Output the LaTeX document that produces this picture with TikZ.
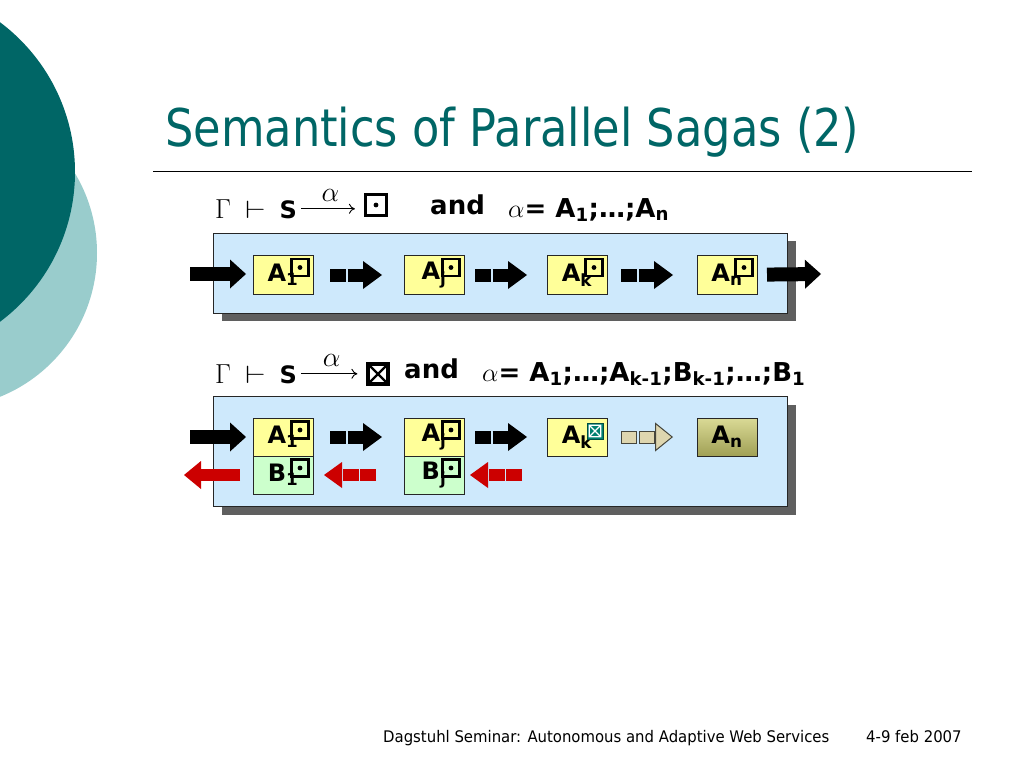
\RequirePackage{fix-cm}
\documentclass[tikz,border=0pt]{standalone}
\usepackage{amsmath,amssymb}
\usepackage{fontspec}
\setmainfont{DejaVu Sans}[FakeStretch=0.86]
\newfontfamily\boldsans{DejaVu Sans}
\newfontfamily\footsans{DejaVu Sans}[FakeStretch=0.93]
\usetikzlibrary{arrows.meta, positioning, calc}
\definecolor{sagateal}{RGB}{0,102,102}
\definecolor{sagalight}{RGB}{153,204,204}
\definecolor{lanefill}{RGB}{206,233,252}
\definecolor{shadowgray}{RGB}{95,95,95}
\definecolor{stepyellow}{RGB}{255,255,153}
\definecolor{compgreen}{RGB}{204,255,204}
\definecolor{compred}{RGB}{204,0,0}
\definecolor{failteal}{RGB}{0,128,112}
\definecolor{idletan}{RGB}{222,214,175}
\definecolor{idledark}{RGB}{70,70,60}
\definecolor{olivelight}{RGB}{218,218,150}
\definecolor{olivedark}{RGB}{160,160,85}
\newcommand{\judge}{\fontsize{25}{25}\selectfont\scalebox{1.1}{$\Gamma$}\hspace{14pt}\scalebox{1.35}[1]{$\vdash$}\hspace{14pt}\fontsize{24}{24}\selectfont S}

\begin{document}
\begin{tikzpicture}[x=1pt, y=-1pt,
    lane/.style={draw=black!85, line width=0.8pt, fill=lanefill},
    stepbox/.style={rectangle, draw=black!85, line width=0.9pt, fill=stepyellow,
                    minimum width=60pt, minimum height=39pt, inner sep=0pt, outer sep=0pt,
                    font=\boldsans\bfseries\fontsize{24}{24}\selectfont},
    compbox/.style={stepbox, fill=compgreen},
    idlebox/.style={stepbox, top color=olivelight, bottom color=olivedark},
    okmark/.style={rectangle, draw=black, line width=2.6pt, minimum size=17pt, inner sep=0pt,
                   path picture={\fill (path picture bounding box.center) circle (2.4pt);}},
    okres/.style={okmark, minimum size=21pt, line width=3.2pt},
    failmark/.style={rectangle, draw=failteal!60!black, fill=failteal, line width=0.8pt,
                     minimum size=16pt, inner sep=0pt,
                     path picture={\draw[white, line width=1.2pt]
                        ([shift={(2.2pt,2.2pt)}]path picture bounding box.south west) rectangle
                        ([shift={(-2.2pt,-2.2pt)}]path picture bounding box.north east)
                        ([shift={(2.2pt,2.2pt)}]path picture bounding box.south west) --
                        ([shift={(-2.2pt,-2.2pt)}]path picture bounding box.north east)
                        ([shift={(2.2pt,-2.2pt)}]path picture bounding box.north west) --
                        ([shift={(-2.2pt,2.2pt)}]path picture bounding box.south east);}},
    failres/.style={rectangle, draw=black, line width=3.2pt, minimum size=20pt, inner sep=0pt,
                    path picture={\draw[line width=2.4pt]
                        (path picture bounding box.south west) -- (path picture bounding box.north east)
                        (path picture bounding box.north west) -- (path picture bounding box.south east);}},
    formula/.style={anchor=base west, inner sep=0pt, font=\boldsans\bfseries\fontsize{21}{21}\selectfont},
    seqtext/.style={anchor=base west, inner sep=0pt, font=\boldsans\bfseries\fontsize{26}{26}\selectfont},
    alphalabel/.style={font=\fontsize{28}{28}\selectfont, inner sep=0pt},
    maparr/.style={-{To[length=6pt, width=10pt]}, line width=0.9pt, shorten <=4pt, shorten >=9pt},
    fwd/.style={line width=14pt, -{Triangle[length=16pt, width=29pt, line width=0pt]}},
    fwdstep/.style={line width=13pt, dash pattern=on 16pt off 1.5pt,
                    -{Triangle[length=19pt, width=28pt, line width=0pt]}},
    bwd/.style={compred, line width=12pt, -{Triangle[length=17pt, width=28pt, line width=0pt]}},
    bwdstep/.style={compred, line width=12pt, dash pattern=on 16pt off 1.5pt,
                    -{Triangle[length=18pt, width=26pt, line width=0pt]}},
    idleout/.style={idledark, line width=13pt, dash pattern=on 16pt off 2pt,
                    -{Triangle[length=18pt, width=29pt, line width=1pt, fill=idletan]}},
    idlefill/.style={idletan, line width=11pt, dash pattern=on 14pt off 4pt, dash phase=17pt},
]
    \useasboundingbox (0,0) rectangle (1024,768);
    \fill[white] (0,0) rectangle (1024,768);

    % corner decoration
    \begin{scope}
        \clip (0,0) rectangle (1024,768);
        \fill[sagalight] (-58,253) circle (155pt);
        \fill[sagateal] (-112,172) circle (187pt);
    \end{scope}

    % title
    \node[anchor=base west, inner sep=0pt, text=sagateal, font=\fontsize{52}{60}\selectfont]
        (title) at (165,146) {Semantics of Parallel Sagas (2)};
    \draw[line width=1pt] (153,171) -- (972,171);

    % ---- successful run ----
    \node[formula] (g1) at (215,218) {\judge};
    \node[okres] (res1) at (376,205) {};
    \draw[maparr] (g1.east) -- (g1.east -| res1.west) node[midway, above=7pt, alphalabel] {$\alpha$};
    \node[seqtext] (and1) at (430,214) {and};
    \node[seqtext] (seq1) at (508,217) {$\alpha$= A\textsubscript{1};\ldots;A\textsubscript{n}};

    \fill[shadowgray] (222,241) rectangle (796,321);
    \draw[lane] (213,233) rectangle (787,313);

    \node[stepbox] (a1) at (283,275) {A\textsubscript{1}};
    \node[stepbox, right=91pt of a1] (aj) {A\textsubscript{j}};
    \node[stepbox, right=83pt of aj] (ak) {A\textsubscript{k}};
    \node[stepbox, right=90pt of ak] (an) {A\textsubscript{n}};
    \foreach \s in {a1,aj,ak,an}
        \node[okmark] (\s m) at ($(\s.north east)+(-13,12)$) {};

    \coordinate (in1) at (190,274);
    \coordinate (out1) at (821,274);
    \draw[fwd, shorten >=7pt] (in1) -- (in1 -| a1.west);
    \draw[fwdstep, shorten <=17pt, shorten >=22pt] (a1) -- (aj);
    \draw[fwdstep, shorten <=11pt, shorten >=20pt] (aj) -- (ak);
    \draw[fwdstep, shorten <=14pt, shorten >=24pt] (ak) -- (an);
    \draw[fwd, shorten <=10pt] (an) -- (out1);

    % ---- failed run ----
    \node[formula] (g2) at (215,383) {\judge};
    \node[failres] (res2) at (378,374) {};
    \draw[maparr] (g2.east) -- (g2.east -| res2.west) node[midway, above=7pt, alphalabel] {$\alpha$};
    \node[seqtext] (and2) at (404,378) {and};
    \node[seqtext] (seq2) at (482,381) {$\alpha$= A\textsubscript{1};\ldots;A\textsubscript{k-1};B\textsubscript{k-1};\ldots;B\textsubscript{1}};

    \fill[shadowgray] (222,405) rectangle (796,515);
    \draw[lane] (213,396) rectangle (787,506);

    \node[stepbox, minimum height=38pt] (a1b) at (283,437) {A\textsubscript{1}};
    \node[compbox, minimum height=38pt, below=0pt of a1b] (b1) {B\textsubscript{1}};
    \node[stepbox, minimum height=38pt, right=91pt of a1b] (ajb) {A\textsubscript{j}};
    \node[compbox, minimum height=38pt, below=0pt of ajb] (bj) {B\textsubscript{j}};
    \node[stepbox, minimum height=38pt, right=83pt of ajb] (akb) {A\textsubscript{k}};
    \node[idlebox, minimum height=38pt, right=90pt of akb] (anb) {A\textsubscript{n}};
    \foreach \s in {a1b,b1,ajb,bj}
        \node[okmark] (\s m) at ($(\s.north east)+(-13,12)$) {};
    \node[failmark] (akbm) at ($(akb.north east)+(-12,13)$) {};

    \coordinate (in2) at (190,437);
    \coordinate (out2) at (184,476);
    \coordinate (undo) at ($(akb.west |- bj)+(-25,0)$);
    \draw[fwd, shorten >=7pt] (in2) -- (in2 -| a1b.west);
    \draw[fwdstep, shorten <=17pt, shorten >=22pt] (a1b) -- (ajb);
    \draw[fwdstep, shorten <=11pt, shorten >=20pt] (ajb) -- (akb);
    \draw[idleout, shorten <=14pt, shorten >=24pt] (akb) -- (anb);
    \draw[idlefill, shorten <=14pt, shorten >=42pt] (akb) -- (anb);
    \draw[bwdstep, shorten >=6pt] (undo) -- (bj);
    \draw[bwdstep, shorten <=28pt, shorten >=11pt] (bj) -- (b1);
    \draw[bwd, shorten <=13pt] (b1.west) -- (b1.west -| out2);

    % footer
    \node[anchor=base west, inner sep=0pt, font=\footsans\fontsize{16}{16}\selectfont]
        (venue) at (383,742) {Dagstuhl Seminar: Autonomous and Adaptive Web Services};
    \node[anchor=base west, inner sep=0pt, font=\footsans\fontsize{16}{16}\selectfont]
        (date) at (866,742) {4-9 feb 2007};
\end{tikzpicture}
\end{document}
